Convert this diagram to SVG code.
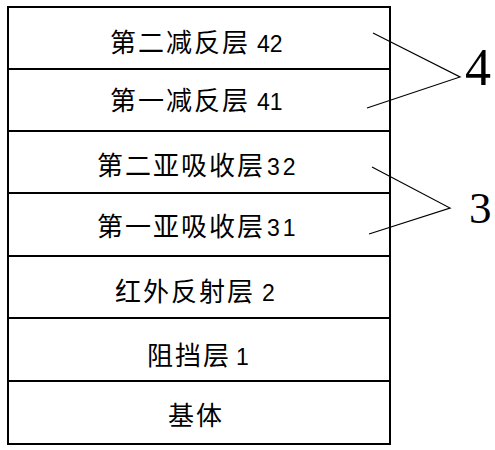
<svg xmlns="http://www.w3.org/2000/svg" width="495" height="450" viewBox="0 0 495 450">
<style>
.layer{fill:#fff;stroke:#000;stroke-width:2}
.cjk{font-family:"Noto Sans CJK SC","Noto Sans CJK TC",sans-serif;font-size:26px;letter-spacing:2px;fill:#000}
.num{font-family:"Liberation Sans","DejaVu Sans",sans-serif;font-size:23px;fill:#000}
.lbl{font-family:"Liberation Serif","DejaVu Serif",serif;fill:#000}
.lead{stroke:#000;stroke-width:1.2;fill:none}
</style>
<rect width="495" height="450" fill="#fff"/>
<g id="layer42"><rect class="layer" x="8" y="7" width="382" height="62"/><text class="cjk" x="110" y="52">第二减反层</text><text class="num" x="257" y="52">42</text></g>
<g id="layer41"><rect class="layer" x="8" y="69" width="382" height="62"/><text class="cjk" x="110" y="110">第一减反层</text><text class="num" x="257" y="110">41</text></g>
<g id="layer32"><rect class="layer" x="8" y="131" width="382" height="62"/><text class="cjk" x="97" y="175">第二亚吸收层</text><text class="num" x="267" y="175" style="letter-spacing:3px">32</text></g>
<g id="layer31"><rect class="layer" x="8" y="193" width="382" height="63"/><text class="cjk" x="97" y="236">第一亚吸收层</text><text class="num" x="267" y="236" style="letter-spacing:3px">31</text></g>
<g id="layer2"><rect class="layer" x="8" y="256" width="382" height="62"/><text class="cjk" x="115" y="301">红外反射层</text><text class="num" x="262" y="301">2</text></g>
<g id="layer1"><rect class="layer" x="8" y="318" width="382" height="63"/><text class="cjk" x="147" y="365">阻挡层</text><text class="num" x="236" y="365">1</text></g>
<g id="substrate"><rect class="layer" x="8" y="381" width="382" height="63"/><text class="cjk" x="168" y="425">基体</text></g>
<g id="connectors">
<polyline class="lead" points="373,33 460,77 367,108"/>
<polyline class="lead" points="372,167 450,208 369,234"/>
</g>
<g id="label4"><text class="lbl" x="465" y="85" font-size="52">4</text></g>
<g id="label3"><text class="lbl" x="469" y="223" font-size="45">3</text></g>
</svg>
